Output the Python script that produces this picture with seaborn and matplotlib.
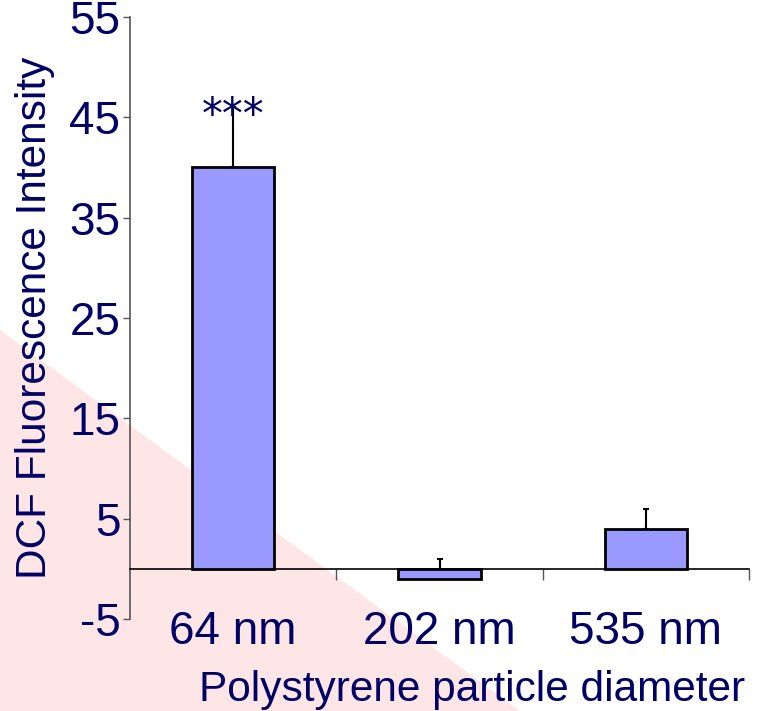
import matplotlib
matplotlib.use("Agg")
import matplotlib.pyplot as plt
import seaborn as sns
import pandas as pd
from matplotlib.patches import Polygon

# data
sizes = ["64 nm", "202 nm", "535 nm"]
dcf = [40.0, -1.0, 4.0]
dcf_err = [6.0, 2.0, 2.0]
signif = ["***", "", ""]
yticks = [-5, 5, 15, 25, 35, 45, 55]

navy = "#000066"
bar_col = "#9999ff"

sns.set_style("white")
plt.rcParams["font.family"] = ["Liberation Sans", "DejaVu Sans"]

df = pd.DataFrame({"size": sizes, "dcf": dcf})

fig = plt.figure(figsize=(7.62, 7.11), dpi=100)

# pink triangle in the lower-left background
tri = Polygon([[0, 1 - 330 / 711], [0, 0], [520 / 762, 0]], closed=True,
              transform=fig.transFigure, facecolor="#ffe6e6", edgecolor="none", zorder=-10)
fig.patches.append(tri)

ax = fig.add_axes([130 / 762, 1 - 619 / 711, (749 - 130) / 762, (619 - 17) / 711])
ax.set_facecolor("none")

sns.barplot(data=df, x="size", y="dcf", color=bar_col, edgecolor="black",
            linewidth=2, width=0.4, errorbar=None, saturation=1, ax=ax, zorder=3)

ax.errorbar(range(len(sizes)), dcf, yerr=[[0] * len(dcf_err), dcf_err], fmt="none",
            ecolor="black", elinewidth=1.5, capsize=2, capthick=1.5, zorder=2)

for i, s in enumerate(signif):
    if s:
        ax.text(i, dcf[i] + dcf_err[i] - 3.0, s, ha="center", va="bottom",
                fontsize=30, color=navy, family="DejaVu Sans")

ax.set_xlim(-0.5, 2.5)
ax.set_ylim(-5, 55)
ax.set_yticks(yticks)
ax.set_yticklabels([str(t) for t in yticks], fontsize=33, color=navy)

# x axis sits at zero with separator ticks between categories
ax.spines["bottom"].set_position(("data", 0))
ax.spines["top"].set_visible(False)
ax.spines["right"].set_visible(False)
ax.spines["left"].set_color("#555555")
ax.spines["bottom"].set_color("black")
ax.spines["left"].set_linewidth(1.2)
ax.spines["bottom"].set_linewidth(1.2)

ax.set_xticks(range(len(sizes)))
ax.set_xticklabels(sizes, fontsize=33, color=navy)
ax.set_xticks([0.5, 1.5, 2.5], minor=True)
ax.tick_params(axis="both", which="both", bottom=True, left=True)
ax.tick_params(axis="x", which="major", length=0, pad=30)
ax.tick_params(axis="x", which="minor", length=8, width=1, color="#555555", direction="out")
ax.tick_params(axis="y", length=5, width=1, color="#555555", direction="out", pad=2)

ax.set_xlabel("")
ax.set_ylabel("DCF Fluorescence Intensity", fontsize=30.5, color=navy, labelpad=10)
fig.text(745 / 762, 1 - 690 / 711, "Polystyrene particle diameter", ha="right", va="center",
         fontsize=30.5, color=navy)

fig.savefig("out.png", dpi=100)
